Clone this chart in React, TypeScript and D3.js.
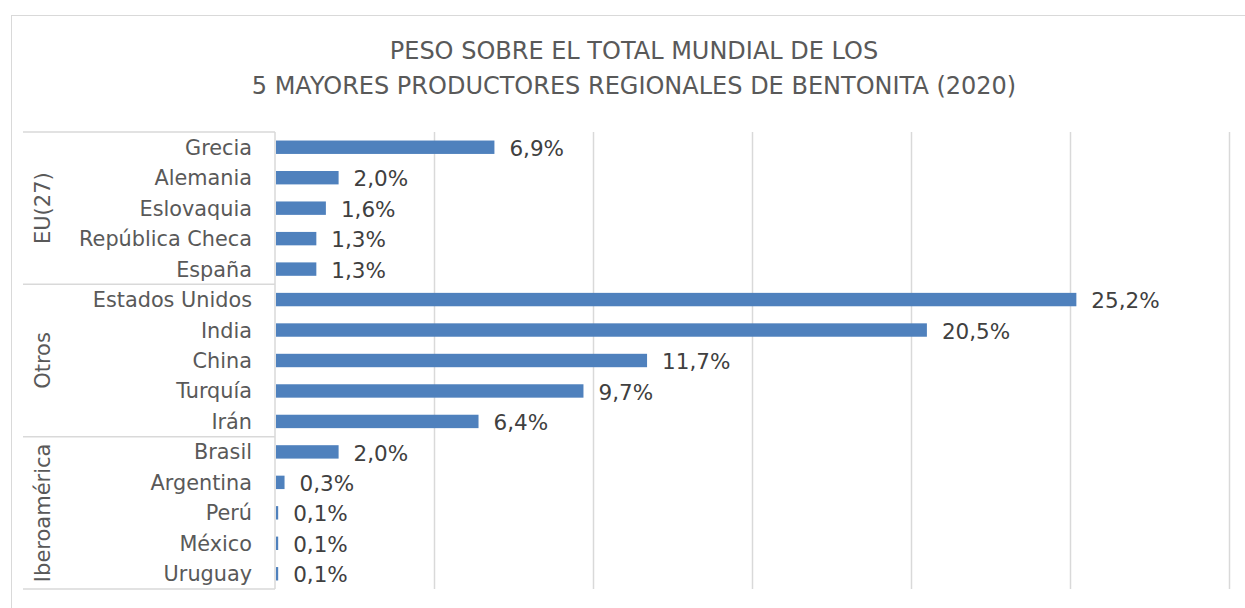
import React, { useEffect, useRef } from 'react';
import * as d3 from 'd3';

const countries = [
  'Grecia', 'Alemania', 'Eslovaquia', 'República Checa', 'España',
  'Estados Unidos', 'India', 'China', 'Turquía', 'Irán',
  'Brasil', 'Argentina', 'Perú', 'México', 'Uruguay',
];
const shares = [6.9, 2.0, 1.6, 1.3, 1.3, 25.2, 20.5, 11.7, 9.7, 6.4, 2.0, 0.3, 0.1, 0.1, 0.1];
const groups = ['EU(27)', 'Otros', 'Iberoamérica'];
const groupSizes = [5, 5, 5];
const xTicks = [0, 5, 10, 15, 20, 25, 30];
const titleLines = [
  'PESO SOBRE EL TOTAL MUNDIAL DE LOS',
  '5 MAYORES PRODUCTORES REGIONALES DE BENTONITA (2020)',
];

const W = 1245;
const H = 608;
const FONT = '"DejaVu Sans", Verdana, sans-serif';

export default function App() {
  const svgRef = useRef<SVGSVGElement>(null);

  useEffect(() => {
    if (!svgRef.current) return;
    const svg = d3.select(svgRef.current);
    svg.selectAll('*').remove();

    const plot = { left: 275, right: 1229, top: 132, bottom: 589 };

    // chart frame
    svg.append('rect')
      .attr('x', 11.5).attr('y', 15.5)
      .attr('width', W + 20).attr('height', H + 20)
      .attr('fill', 'white').attr('stroke', '#d9d9d9');

    svg.selectAll('text.title')
      .data(titleLines)
      .enter()
      .append('text')
      .attr('class', 'title')
      .attr('x', 634)
      .attr('y', (_, i) => 59 + i * 35)
      .attr('text-anchor', 'middle')
      .attr('font-family', FONT)
      .attr('font-size', 24)
      .attr('fill', '#595959')
      .text(d => d);

    const x = d3.scaleLinear().domain([0, 30]).range([plot.left, plot.right]);
    const y = d3.scaleBand().domain(countries).range([plot.top, plot.bottom]).paddingInner(0.56).paddingOuter(0.28);

    // gridlines
    svg.append('g')
      .selectAll('line')
      .data(xTicks.slice(1))
      .enter()
      .append('line')
      .attr('x1', d => x(d) + 0.5).attr('x2', d => x(d) + 0.5)
      .attr('y1', plot.top).attr('y2', plot.bottom)
      .attr('stroke', '#d9d9d9').attr('stroke-width', 1.5);

    // category axis lines
    const yStep = (plot.bottom - plot.top) / countries.length;
    const boundaries = [0];
    groupSizes.reduce((acc, n) => { boundaries.push(acc + n); return acc + n; }, 0);
    svg.append('g')
      .selectAll('line')
      .data(boundaries)
      .enter()
      .append('line')
      .attr('x1', 23).attr('x2', plot.left)
      .attr('y1', d => plot.top + d * yStep).attr('y2', d => plot.top + d * yStep)
      .attr('stroke', '#d9d9d9').attr('stroke-width', 1.5);
    svg.append('line')
      .attr('x1', plot.left).attr('x2', plot.left)
      .attr('y1', plot.top).attr('y2', plot.bottom)
      .attr('stroke', '#d9d9d9').attr('stroke-width', 1.5);

    // bars
    svg.append('g')
      .selectAll('rect')
      .data(countries)
      .enter()
      .append('rect')
      .attr('x', x(0) + 1)
      .attr('y', d => y(d) || 0)
      .attr('width', (_, i) => Math.max(1, x(shares[i]) - x(0) - 1))
      .attr('height', y.bandwidth())
      .attr('fill', '#4f81bd');

    // value labels
    svg.append('g')
      .selectAll('text')
      .data(countries)
      .enter()
      .append('text')
      .attr('x', (_, i) => x(shares[i]) + 15)
      .attr('y', d => (y(d) || 0) + y.bandwidth() / 2)
      .attr('dy', '0.4em')
      .attr('font-family', FONT)
      .attr('font-size', 21.5)
      .attr('fill', '#404040')
      .text((_, i) => shares[i].toFixed(1).replace('.', ',') + '%');

    // category labels
    svg.append('g')
      .selectAll('text')
      .data(countries)
      .enter()
      .append('text')
      .attr('x', 252)
      .attr('y', d => (y(d) || 0) + y.bandwidth() / 2)
      .attr('dy', '0.36em')
      .attr('text-anchor', 'end')
      .attr('font-family', FONT)
      .attr('font-size', 20.8)
      .attr('fill', '#595959')
      .text(d => d);

    // group labels
    svg.append('g')
      .selectAll('text')
      .data(groups)
      .enter()
      .append('text')
      .attr('transform', (_, i) => {
        const cy = plot.top + (boundaries[i] + groupSizes[i] / 2) * yStep;
        return `translate(42,${cy}) rotate(-90)`;
      })
      .attr('dy', '0.36em')
      .attr('text-anchor', 'middle')
      .attr('font-family', FONT)
      .attr('font-size', 21)
      .attr('fill', '#595959')
      .text(d => d);
  }, []);

  return (
    <svg
      ref={svgRef}
      width={W}
      height={H}
      style={{ position: 'absolute', left: 0, top: 0, background: 'white' }}
    ></svg>
  );
}
